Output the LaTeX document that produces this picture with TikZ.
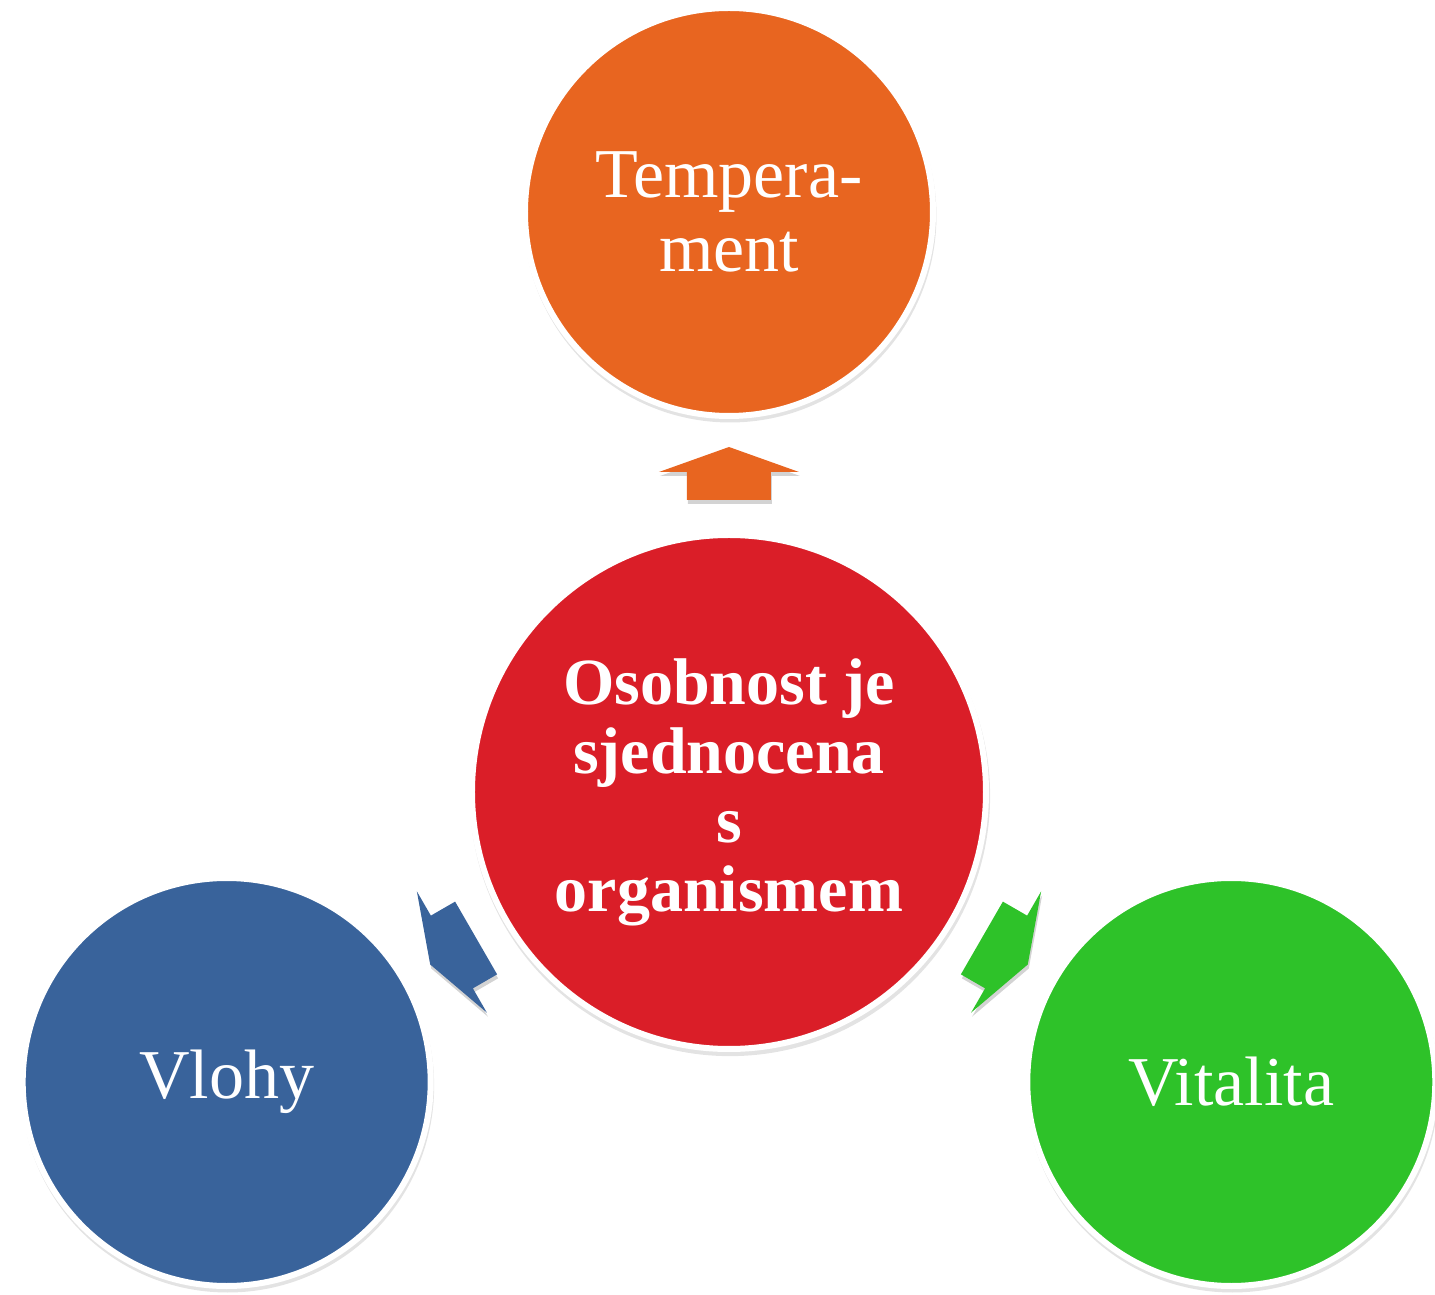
\documentclass[tikz,border=0pt]{standalone}
\usepackage{fontspec}
\setmainfont{Liberation Serif}
\usetikzlibrary{shadows}
\definecolor{orangecol}{RGB}{232,101,32}
\definecolor{redcol}{RGB}{218,30,40}
\definecolor{bluecol}{RGB}{57,99,155}
\definecolor{greencol}{RGB}{46,194,41}
\tikzset{
  ball/.style={circle, draw=white, line width=3pt, text=white, align=center,
    font=\fontsize{35}{37}\selectfont, minimum size=204pt,
    drop shadow={shadow xshift=0.5pt, shadow yshift=-2pt, shadow scale=1.012, opacity=0.22}},
  pointer/.style={drop shadow={shadow xshift=0.5pt, shadow yshift=-2pt, opacity=0.35}}
}
\begin{document}
\begin{tikzpicture}
\useasboundingbox (-364.5pt,-251.5pt) rectangle (353pt,396pt);
\node[ball, fill=redcol, minimum size=257pt, font=\fontsize{33}{34.5}\selectfont\bfseries] (osob) at (0,0) {Osobnost je\\sjednocena\\s\\organismem};
\node[ball, fill=orangecol] (temp) at (90:290pt) {Tempera-\\ment};
\node[ball, fill=bluecol] (vloh) at (210:290pt) {Vlohy};
\node[ball, fill=greencol] (vita) at (330:290pt) {Vitalita};
% arrows round the middle circle
\foreach \ang/\col in {0/orangecol, 120/bluecol, -120/greencol}
  \fill[pointer, fill=\col, rotate=\ang] (0,172.5pt) -- (35pt,160pt) -- (21pt,160pt) -- (21pt,146pt)
    -- (-21pt,146pt) -- (-21pt,160pt) -- (-35pt,160pt) -- cycle;
\end{tikzpicture}
\end{document}
